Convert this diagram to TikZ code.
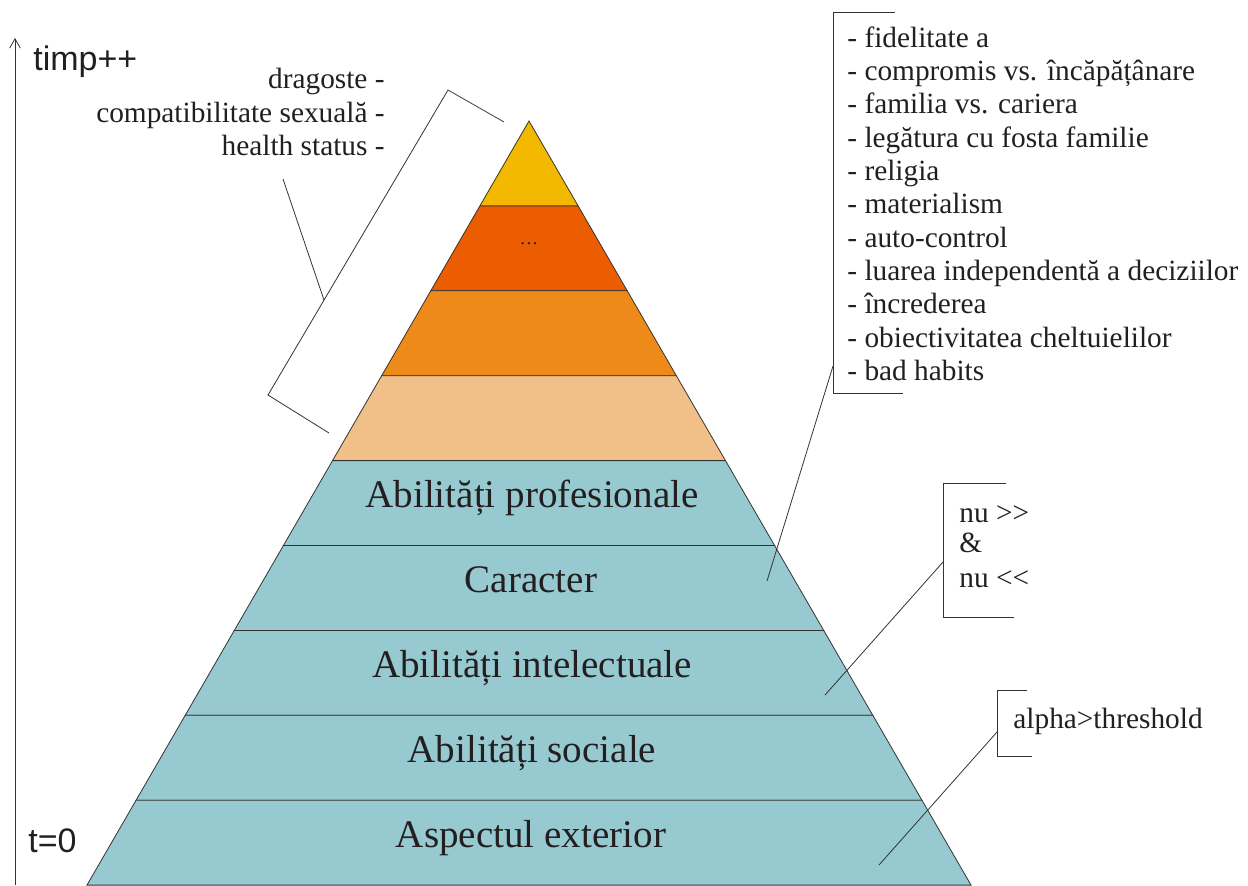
\documentclass[tikz,border=0pt]{standalone}
\usepackage{fontspec}
\setmainfont{Liberation Serif}
\newfontfamily\axisfont{Liberation Sans}
\usetikzlibrary{positioning,arrows.meta}

\definecolor{lay1}{HTML}{F2B900}
\definecolor{lay2}{HTML}{EB5D00}
\definecolor{lay3}{HTML}{EE8A1A}
\definecolor{lay4}{HTML}{F0C088}
\definecolor{lay5}{HTML}{97C9D0}
\definecolor{edge}{HTML}{333333}
\definecolor{ink}{HTML}{231F20}

\begin{document}
\begin{tikzpicture}[x=0.75pt, y=-0.75pt, line width=0.6pt,
                    level node/.style={font=\fontsize{29.3}{33}\selectfont,text=ink,inner sep=0pt,anchor=base},
                    note node/.style={font=\fontsize{22}{25}\selectfont,text=ink,inner sep=0pt},
                    axis node/.style={font=\axisfont\fontsize{25.5}{30}\selectfont,text=ink,inner sep=0pt,anchor=base west},
                    bracket/.style={draw=edge,line width=0.6pt}]

  \useasboundingbox (0,0) rectangle (1248,885);

  % the pyramid, layer by layer
  \foreach \k/\c in {0/lay1,1/lay2,2/lay3,3/lay4,4/lay5,5/lay5,6/lay5,7/lay5,8/lay5}{
    \pgfmathsetmacro\ya{121+84.9*\k}
    \pgfmathsetmacro\yb{121+84.9*(\k+1)}
    \pgfmathsetmacro\wa{0.5785*(\ya-121)}
    \pgfmathsetmacro\wb{0.5785*(\yb-121)}
    \filldraw[fill=\c,draw=edge] (529-\wa,\ya) -- (529+\wa,\ya) -- (529+\wb,\yb) -- (529-\wb,\yb) -- cycle;
  }

  \node[note node,font=\fontsize{14}{16}\selectfont] (2) at (529,244) {\ldots};
  \node[level node] (5) at (532,507) {Abilități profesionale};
  \node[level node] (6) at (531,592) {Caracter};
  \node[level node] (7) at (532,677) {Abilități intelectuale};
  \node[level node] (8) at (532,762) {Abilități sociale};
  \node[level node] (9) at (531,847) {Aspectul exterior};

  % time axis
  \coordinate (t0) at (15,885);
  \coordinate (tmax) at (15,38);
  \draw[-{Straight Barb[length=7pt,width=8pt]},draw=edge] (t0) -- (tmax);
  \node[axis node] (timp) at (33,70) {timp++};
  \node[axis node] (zero) at (28,852) {t=0};

  % top-left note
  \node[note node,align=right,anchor=north east] (top) at (385,68)
       {dragoste -\\compatibilitate sexuală -\\health status -};
  \draw[bracket] (504,122) -- (448,90) -- (268,395) -- (329,433);
  \coordinate (topa) at (324,300);
  \coordinate (topb) at (283,179);
  \draw[edge] (topa) -- (topb);

  % right list
  \node[note node,align=left,anchor=north west] (list) at (847,26)
       {- fidelitate a\\- compromis vs. încăpățânare\\- familia vs. cariera\\- legătura cu fosta familie\\- religia\\- materialism\\- auto-control\\- luarea independentă a deciziilor\\- încrederea\\- obiectivitatea cheltuielilor\\- bad habits};
  \draw[bracket] (895,12) -- (833,12) -- (833,393) -- (903,393);
  \coordinate (lista) at (833,366);
  \coordinate (listb) at (767,581);
  \draw[edge] (lista) -- (listb);

  % nu >> & nu <<
  \node[note node,anchor=base west] (nu1) at (959,522) {nu >{}>};
  \node[note node,anchor=base west] (amp) at (959,552) {\&};
  \node[note node,anchor=base west] (nu2) at (959,587) {nu <{}<};
  \draw[bracket] (1006,483) -- (943,483) -- (943,617) -- (1014,617);
  \coordinate (nua) at (943,562);
  \coordinate (nub) at (825,695);
  \draw[edge] (nua) -- (nub);

  % alpha > threshold
  \node[note node,anchor=base west] (alpha) at (1013,728) {alpha>threshold};
  \draw[bracket] (1027,690) -- (997,690) -- (997,756) -- (1032,756);
  \coordinate (alphaa) at (997,732);
  \coordinate (alphab) at (879,865);
  \draw[edge] (alphaa) -- (alphab);

\end{tikzpicture}
\end{document}
